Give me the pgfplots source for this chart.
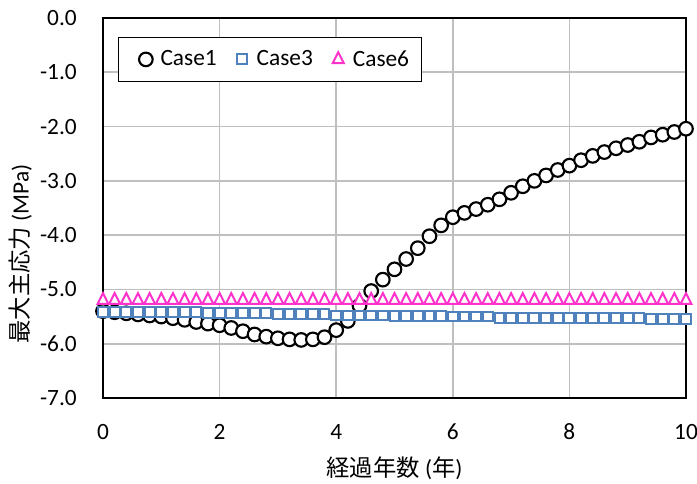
\documentclass[border=0pt]{standalone}
\usepackage{fontspec}
\setmainfont{Carlito}
\newfontfamily\jp{Noto Sans CJK JP}
\usepackage{pgfplots}
\pgfplotsset{compat=1.18}

\definecolor{caseblue}{RGB}{79,129,189}
\definecolor{casepink}{RGB}{255,51,204}
\definecolor{gridgray}{RGB}{191,191,191}

\begin{document}
\begin{tikzpicture}
\useasboundingbox (0,0) rectangle (522.75pt,363pt);
\begin{axis}[
  at={(77.25pt,64.5pt)}, anchor=south west,
  width=437.25pt, height=285pt, scale only axis,
  xmin=0, xmax=10, ymin=-7, ymax=0,
  xtick={0,2,...,10}, ytick={-7,-6,...,0},
  major tick length=0pt,
  clip=false,
  font=\fontsize{17.5}{21}\selectfont,
  grid=major,
  major grid style={gridgray, line width=1.2pt},
  axis line style={black, line width=1pt},
  /pgf/number format/assume math mode=true,
  yticklabel style={/pgf/number format/fixed, /pgf/number format/fixed zerofill, /pgf/number format/precision=1},
  yticklabel style={anchor=east, inner sep=0pt, xshift=-19.5pt},
  xticklabel style={anchor=center, inner sep=0pt, yshift=-25.5pt},
  xlabel={{\jp 経過年数} ({\jp 年})},
  xlabel style={at={(axis description cs:0.5,0)}, anchor=center, yshift=-52.5pt},
  ylabel={{\jp 最大主応力} (MPa)},
  ylabel style={at={(axis description cs:0,0.379)}, anchor=center, yshift=62pt},
  legend columns=-1,
  legend image code/.code={\path[draw=none, fill=none] (0pt,0pt) -- (22.5pt,0pt); \draw[#1, overlay] plot coordinates {(13.5pt,0pt)};},
  legend style={at={(rel axis cs:0,1)}, anchor=north west, xshift=11.25pt, yshift=-14.25pt,
    draw=black, line width=0.8pt, inner xsep=7pt, inner ysep=7.75pt,
    font=\fontsize{17.5}{21}\selectfont,
    /tikz/every odd column/.append style={column sep=0pt},
    /tikz/every even column/.append style={column sep=3.5pt}},
]
% Case1
\addplot[only marks, mark=*, mark size=5.1pt, mark options={draw=black, fill=white, line width=1.6pt}]
coordinates {
(0.0,-5.40)(0.2,-5.42)(0.4,-5.44)(0.6,-5.46)(0.8,-5.48)(1.0,-5.50)
(1.2,-5.53)(1.4,-5.56)(1.6,-5.60)(1.8,-5.63)(2.0,-5.66)(2.2,-5.71)
(2.4,-5.77)(2.6,-5.83)(2.8,-5.87)(3.0,-5.90)(3.2,-5.92)(3.4,-5.93)
(3.6,-5.92)(3.8,-5.88)(4.0,-5.75)(4.2,-5.58)(4.4,-5.30)(4.6,-5.03)
(4.8,-4.82)(5.0,-4.63)(5.2,-4.44)(5.4,-4.24)(5.6,-4.02)(5.8,-3.82)
(6.0,-3.67)(6.2,-3.59)(6.4,-3.52)(6.6,-3.44)(6.8,-3.34)(7.0,-3.22)
(7.2,-3.10)(7.4,-3.00)(7.6,-2.90)(7.8,-2.80)(8.0,-2.72)(8.2,-2.62)
(8.4,-2.54)(8.6,-2.47)(8.8,-2.40)(9.0,-2.34)(9.2,-2.28)(9.4,-2.20)
(9.6,-2.15)(9.8,-2.10)(10.0,-2.04)
};
\addlegendentry{Case1}
% Case3
\addplot[only marks, mark=square*, mark size=3.7pt, mark options={draw=caseblue, fill=white, line width=1.5pt}]
coordinates {
(0.0,-5.42)(0.2,-5.42)(0.4,-5.42)(0.6,-5.42)(0.8,-5.42)(1.0,-5.42)
(1.2,-5.42)(1.4,-5.42)(1.6,-5.42)(1.8,-5.44)(2.0,-5.44)(2.2,-5.44)
(2.4,-5.44)(2.6,-5.44)(2.8,-5.44)(3.0,-5.46)(3.2,-5.46)(3.4,-5.46)
(3.6,-5.46)(3.8,-5.46)(4.0,-5.48)(4.2,-5.48)(4.4,-5.48)(4.6,-5.48)
(4.8,-5.48)(5.0,-5.49)(5.2,-5.49)(5.4,-5.49)(5.6,-5.49)(5.8,-5.49)
(6.0,-5.50)(6.2,-5.50)(6.4,-5.50)(6.6,-5.50)(6.8,-5.52)(7.0,-5.52)
(7.2,-5.52)(7.4,-5.52)(7.6,-5.52)(7.8,-5.52)(8.0,-5.52)(8.2,-5.52)
(8.4,-5.52)(8.6,-5.52)(8.8,-5.52)(9.0,-5.52)(9.2,-5.52)(9.4,-5.55)
(9.6,-5.55)(9.8,-5.55)(10.0,-5.55)
};
\addlegendentry{Case3}
% Case6
\addplot[only marks, mark=triangle*, mark size=4.7pt, mark options={draw=casepink, fill=white, line width=1.5pt, yscale=1.15}]
coordinates {
(0.0,-5.2)(0.2,-5.2)(0.4,-5.2)(0.6,-5.2)(0.8,-5.2)(1.0,-5.2)
(1.2,-5.2)(1.4,-5.2)(1.6,-5.2)(1.8,-5.2)(2.0,-5.2)(2.2,-5.2)
(2.4,-5.2)(2.6,-5.2)(2.8,-5.2)(3.0,-5.2)(3.2,-5.2)(3.4,-5.2)
(3.6,-5.2)(3.8,-5.2)(4.0,-5.2)(4.2,-5.2)(4.4,-5.2)(4.6,-5.2)
(4.8,-5.2)(5.0,-5.2)(5.2,-5.2)(5.4,-5.2)(5.6,-5.2)(5.8,-5.2)
(6.0,-5.2)(6.2,-5.2)(6.4,-5.2)(6.6,-5.2)(6.8,-5.2)(7.0,-5.2)
(7.2,-5.2)(7.4,-5.2)(7.6,-5.2)(7.8,-5.2)(8.0,-5.2)(8.2,-5.2)
(8.4,-5.2)(8.6,-5.2)(8.8,-5.2)(9.0,-5.2)(9.2,-5.2)(9.4,-5.2)
(9.6,-5.2)(9.8,-5.2)(10.0,-5.2)
};
\addlegendentry{Case6}
\end{axis}
\end{tikzpicture}
\end{document}
